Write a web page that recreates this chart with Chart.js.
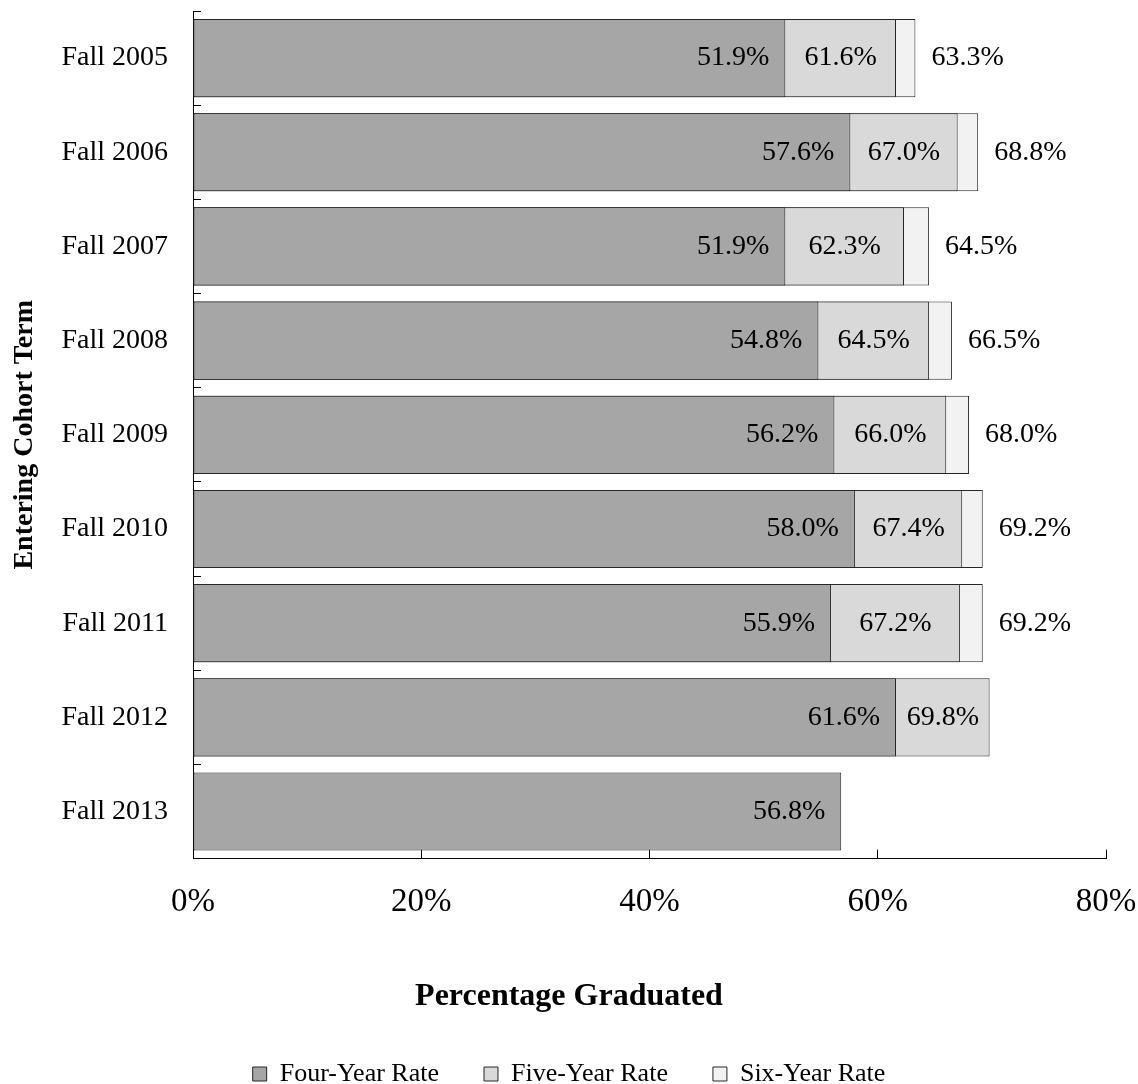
<!DOCTYPE html>
<html>
<head>
<meta charset="utf-8">
<script src="https://cdn.jsdelivr.net/npm/chart.js@4/dist/chart.umd.min.js"></script>
<style>
  html, body { margin: 0; padding: 0; background: #ffffff; }
  #wrap { width: 1138px; height: 1084px; }
</style>
</head>
<body>
<div id="wrap"><canvas id="c" width="1138" height="1084"></canvas></div>
<script>
const categories = ["Fall 2005", "Fall 2006", "Fall 2007", "Fall 2008", "Fall 2009", "Fall 2010", "Fall 2011", "Fall 2012", "Fall 2013"];
const fourYear = [51.9, 57.6, 51.9, 54.8, 56.2, 58.0, 55.9, 61.6, 56.8];
const fiveYear = [61.6, 67.0, 62.3, 64.5, 66.0, 67.4, 67.2, 69.8, null];
const sixYear  = [63.3, 68.8, 64.5, 66.5, 68.0, 69.2, 69.2, null, null];
const xTicks = [0, 20, 40, 60, 80];

const FONT = "'Liberation Serif', 'Times New Roman', serif";

const labelPlugin = {
  id: 'barLabels',
  afterDatasetsDraw(chart) {
    const ctx = chart.ctx;
    const m4 = chart.getDatasetMeta(0);
    const m5 = chart.getDatasetMeta(1);
    const m6 = chart.getDatasetMeta(2);
    ctx.save();
    ctx.font = "28px " + FONT;
    ctx.fillStyle = '#000';
    ctx.textBaseline = 'middle';
    categories.forEach((c, i) => {
      const b4 = m4.data[i];
      if (fourYear[i] != null && b4) {
        ctx.textAlign = 'right';
        ctx.fillText(fourYear[i].toFixed(1) + '%', b4.x - 16, b4.y);
      }
      const b5 = m5.data[i];
      if (fiveYear[i] != null && b5) {
        ctx.textAlign = 'center';
        ctx.fillText(fiveYear[i].toFixed(1) + '%', (b4.x + b5.x) / 2, b5.y);
      }
      const b6 = m6.data[i];
      if (sixYear[i] != null && b6) {
        ctx.textAlign = 'left';
        ctx.fillText(sixYear[i].toFixed(1) + '%', b6.x + 16, b6.y);
      }
    });
    ctx.restore();
  }
};

const commonBar = {
  borderColor: '#262626',
  borderWidth: 1,
  borderSkipped: false,
  grouped: false,
  barPercentage: 0.83,
  categoryPercentage: 1.0
};

new Chart(document.getElementById('c'), {
  type: 'bar',
  data: {
    labels: categories,
    datasets: [
      Object.assign({ label: 'Four-Year Rate', data: fourYear, backgroundColor: '#a6a6a6', order: 0 }, commonBar),
      Object.assign({ label: 'Five-Year Rate', data: fiveYear, backgroundColor: '#d9d9d9', order: 1 }, commonBar),
      Object.assign({ label: 'Six-Year Rate', data: sixYear, backgroundColor: '#f2f2f2', order: 2 }, commonBar)
    ]
  },
  options: {
    indexAxis: 'y',
    responsive: false,
    devicePixelRatio: 1,
    animation: false,
    layout: { padding: { top: 11, right: 0, bottom: -13, left: 0 } },
    scales: {
      x: {
        min: 0, max: 80,
        afterBuildTicks(scale) { scale.ticks = xTicks.map(v => ({ value: v })); },
        afterFit(scale) {
          scale.height = 119;
          scale.paddingLeft = 0;
          scale.paddingRight = 32;
        },
        ticks: {
          callback: v => v + '%',
          color: '#000',
          font: { family: FONT, size: 33 },
          padding: 33,
          maxRotation: 0
        },
        grid: { drawOnChartArea: false, tickLength: -9, color: '#000', lineWidth: 1 },
        border: { display: true, color: '#000', width: 1 }
      },
      y: {
        afterFit(scale) {
          scale.width = 193;
          scale.paddingTop = 0;
          scale.paddingBottom = 0;
        },
        ticks: {
          color: '#000',
          font: { family: FONT, size: 28 },
          padding: 33
        },
        grid: { offset: true, drawOnChartArea: false, tickLength: -8, color: '#000', lineWidth: 1 },
        border: { display: true, color: '#000', width: 1 },
        title: {
          display: true,
          text: 'Entering Cohort Term',
          color: '#000',
          font: { family: FONT, size: 28, weight: 'bold' },
          padding: { top: 8, bottom: 0 }
        }
      }
    },
    plugins: {
      title: {
        display: true,
        position: 'bottom',
        weight: 500,
        text: 'Percentage Graduated',
        color: '#000',
        font: { family: FONT, size: 32, weight: 'bold' },
        padding: { top: 0, bottom: 0 }
      },
      legend: {
        position: 'bottom',
        weight: 1000,
        labels: {
          color: '#000',
          font: { family: FONT, size: 26 },
          boxWidth: 14,
          boxHeight: 14,
          padding: 45
        }
      },
      tooltip: { enabled: false }
    }
  },
  plugins: [labelPlugin]
});
</script>
</body>
</html>
